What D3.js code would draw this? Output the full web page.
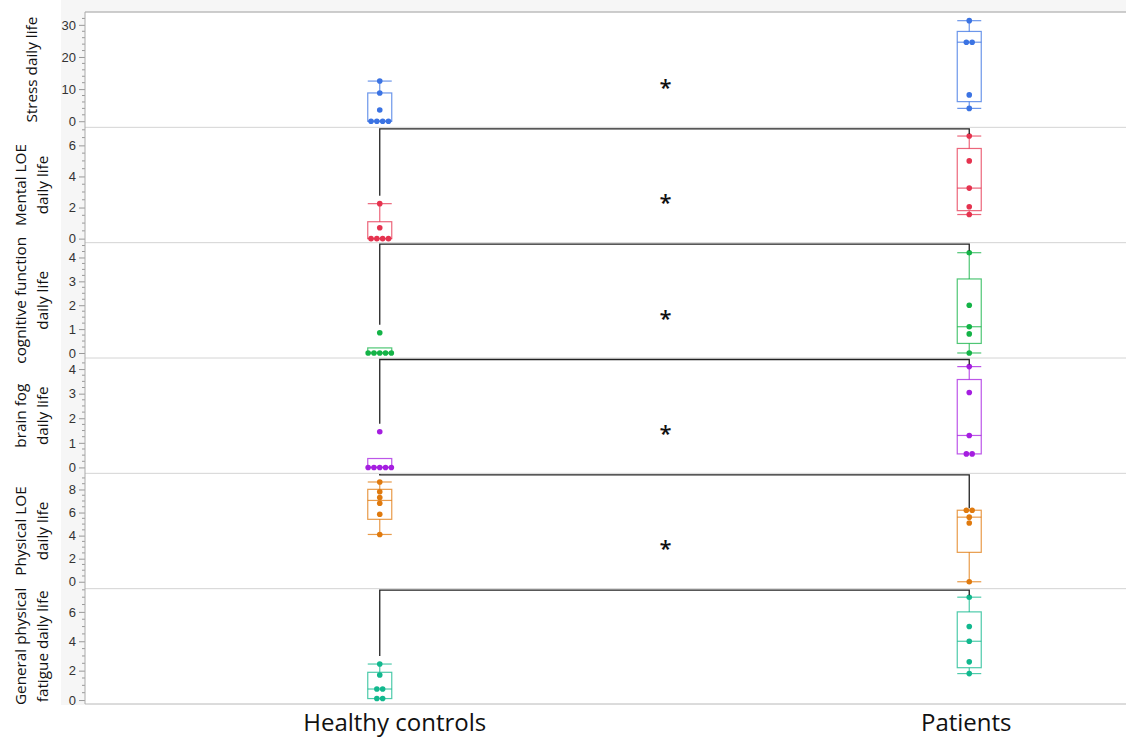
<!DOCTYPE html>
<html>
<head>
<meta charset="utf-8" />
<title>Daily life scores: healthy controls vs patients</title>
<script src="https://d3js.org/d3.v7.min.js"></script>
<style>
  body { margin: 0; background: #fff; }
  svg { display: block; font-family: "Open Sans", "Noto Sans", sans-serif; }
  .tick text { font-size: 13px; fill: #333; }
</style>
</head>
<body>
<div id="chart"></div>
<script>
// groups on the x axis
var groups = ["Healthy controls", "Patients"];

// one entry per panel, top to bottom
var panelTitles = [
  ["Stress daily life"],
  ["Mental LOE", "daily life"],
  ["cognitive function", "daily life"],
  ["brain fog", "daily life"],
  ["Physical LOE", "daily life"],
  ["General physical", "fatigue daily life"]
];
var panelColors = ["#3b73e3", "#e5334f", "#14b347", "#a51ee0", "#e07a0e", "#12b88e"];
var yDomains = [[-1.9, 34], [-0.26, 7.16], [-0.21, 4.62], [-0.24, 4.45], [-0.6, 9.4], [-0.27, 7.58]];
var majorTicks = [[0, 10, 20, 30], [0, 2, 4, 6], [0, 1, 2, 3, 4], [0, 1, 2, 3, 4], [0, 2, 4, 6, 8], [0, 2, 4, 6]];
var minorStep = [2, 0.5, 0.25, 0.25, 0.5, 0.5];

// observed values
var healthyValues = [
  [12.5, 8.8, 3.5, 0, 0, 0, 0],
  [2.25, 0.7, 0, 0, 0, 0],
  [0.85, 0, 0, 0, 0, 0],
  [1.45, 0, 0, 0, 0, 0],
  [8.65, 7.8, 7.3, 6.8, 5.85, 4.1],
  [2.45, 1.7, 0.75, 0.75, 0.1, 0.1]
];
var patientValues = [
  [31.3, 24.6, 24.6, 8.2, 4],
  [6.6, 5.0, 3.25, 2.05, 1.55],
  [4.2, 2.0, 1.1, 0.8, 0],
  [4.1, 3.05, 1.3, 0.55, 0.55],
  [6.2, 6.2, 5.6, 5.1, 0],
  [7.0, 5.0, 4.0, 2.6, 1.8]
];
// significance brackets drawn at the top of these panels
var bracketPanels = [1, 2, 3, 4, 5];
var bracketLabels = ["*", "*", "*", "*", "*"];

var W = 1126, H = 740;
var plotLeft = 85, plotRight = 1264, plotTop = 12, plotBottom = 704;
var panelH = (plotBottom - plotTop) / panelTitles.length;
var boxW = 24, dotR = 2.8, dotGap = 5.8;

var svg = d3.select("#chart").append("svg")
  .attr("width", W)
  .attr("height", H);

// light frame background
svg.append("rect").attr("x", 61).attr("y", 0).attr("width", W - 61).attr("height", plotTop).attr("fill", "#f6f6f6");
svg.append("rect").attr("x", 61).attr("y", 0).attr("width", plotLeft - 61).attr("height", plotBottom + 1).attr("fill", "#f6f6f6");
svg.append("rect").attr("x", plotLeft).attr("y", plotTop).attr("width", plotRight - plotLeft).attr("height", plotBottom - plotTop).attr("fill", "#fff");

var x = d3.scaleBand().domain(groups).range([plotLeft, plotRight]);
function cx(g) { return x(g) + x.bandwidth() / 2; }

// JMP style quantile: position p*(n+1)
function quant(sorted, p) {
  var n = sorted.length, pos = p * (n + 1);
  if (pos <= 1) return sorted[0];
  if (pos >= n) return sorted[n - 1];
  var lo = Math.floor(pos), f = pos - lo;
  return sorted[lo - 1] + f * (sorted[lo] - sorted[lo - 1]);
}

var yScales = [];

panelTitles.forEach(function(title, i) {
  var top = plotTop + i * panelH, bottom = top + panelH;
  var y = d3.scaleLinear().domain(yDomains[i]).range([bottom, top]);
  yScales.push(y);

  // separator
  svg.append("line")
    .attr("x1", plotLeft).attr("x2", W)
    .attr("y1", bottom).attr("y2", bottom)
    .attr("stroke", i == panelTitles.length - 1 ? "#b8b8b8" : "#d4d4d4");

  // minor ticks
  var minors = d3.range(0, yDomains[i][1], minorStep[i]).filter(function(v) { return majorTicks[i].indexOf(v) < 0; });
  svg.append("g").selectAll("line").data(minors).enter().append("line")
    .attr("x1", plotLeft - 3).attr("x2", plotLeft)
    .attr("y1", function(d) { return y(d); })
    .attr("y2", function(d) { return y(d); })
    .attr("stroke", "#999");

  var axis = svg.append("g")
    .attr("transform", "translate(" + plotLeft + ",0)")
    .call(d3.axisLeft(y).tickValues(majorTicks[i]).tickFormat(d3.format("d")).tickSize(6).tickPadding(3));
  axis.select(".domain").remove();
  axis.selectAll(".tick line").attr("stroke", "#999");

  // axis title
  var midY = (top + bottom) / 2;
  var lh = 22;
  var tx = 32 - (title.length - 1) * lh / 2;
  var t = svg.append("text")
    .attr("transform", "translate(" + tx + "," + midY + ") rotate(-90)")
    .attr("text-anchor", "middle")
    .style("font-size", "15.3px")
    .attr("fill", "#111");
  title.forEach(function(line, j) {
    t.append("tspan")
      .attr("x", 0)
      .attr("y", j * lh + 5)
      .text(line);
  });

  // boxes
  [healthyValues[i], patientValues[i]].forEach(function(vals, gi) {
    var g = groups[gi], c = cx(g), col = panelColors[i];
    var s = vals.slice().sort(d3.ascending);
    var q1 = quant(s, 0.25), med = quant(s, 0.5), q3 = quant(s, 0.75), iqr = q3 - q1;
    var hiW = d3.max(s.filter(function(v) { return v <= q3 + 1.5 * iqr; }));
    var loW = d3.min(s.filter(function(v) { return v >= q1 - 1.5 * iqr; }));
    var bg = svg.append("g").attr("stroke", col).attr("stroke-opacity", 0.75).attr("fill", "none").attr("stroke-width", 1.2);
    bg.append("rect").attr("x", c - boxW / 2).attr("y", y(q3)).attr("width", boxW).attr("height", Math.max(0.5, y(q1) - y(q3)));
    bg.append("line").attr("x1", c - boxW / 2).attr("x2", c + boxW / 2).attr("y1", y(med)).attr("y2", y(med));
    if (hiW > q3) {
      bg.append("line").attr("x1", c).attr("x2", c).attr("y1", y(q3)).attr("y2", y(hiW));
      bg.append("line").attr("x1", c - boxW / 2).attr("x2", c + boxW / 2).attr("y1", y(hiW)).attr("y2", y(hiW));
    }
    if (loW < q1) {
      bg.append("line").attr("x1", c).attr("x2", c).attr("y1", y(q1)).attr("y2", y(loW));
      bg.append("line").attr("x1", c - boxW / 2).attr("x2", c + boxW / 2).attr("y1", y(loW)).attr("y2", y(loW));
    }

    // points, ties spread sideways
    var counts = d3.rollup(vals, function(v) { return v.length; }, function(v) { return v; });
    var seen = new Map();
    vals.forEach(function(v) {
      var n = counts.get(v), k = seen.get(v) || 0;
      seen.set(v, k + 1);
      svg.append("circle")
        .attr("cx", c + (k - (n - 1) / 2) * dotGap)
        .attr("cy", y(v))
        .attr("r", dotR)
        .attr("fill", col);
    });
  });
});

// significance brackets
bracketPanels.forEach(function(p, k) {
  var y = yScales[p];
  var lineY = plotTop + p * panelH + 1.5;
  var xL = cx(groups[0]), xR = cx(groups[1]);
  var endL = y(d3.max(healthyValues[p])) - 8;
  var endR = y(d3.max(patientValues[p])) - 2;
  svg.append("path")
    .attr("d", "M" + xL + "," + endL + "V" + lineY + "H" + xR + "V" + endR)
    .attr("fill", "none")
    .attr("stroke", "#222")
    .attr("stroke-width", 1.3);
  svg.append("text")
    .attr("x", (xL + xR) / 2 - 9)
    .attr("y", lineY - 34)
    .attr("text-anchor", "middle")
    .style("font-size", "22px")
    .style("font-weight", "600")
    .attr("fill", "#111")
    .text(bracketLabels[k]);
});

// top frame line and left axis line
svg.append("line").attr("x1", plotLeft).attr("x2", W).attr("y1", plotTop).attr("y2", plotTop).attr("stroke", "#bdbdbd").attr("stroke-width", 1.5);
svg.append("line").attr("x1", plotLeft).attr("x2", plotLeft).attr("y1", plotTop).attr("y2", plotBottom).attr("stroke", "#aaa");

// group labels
svg.append("g").selectAll("text").data(groups).enter().append("text")
  .attr("x", function(d) { return cx(d); })
  .attr("dx", function(d, i) { return i == 0 ? 15 : -3; })
  .attr("y", 731)
  .attr("text-anchor", "middle")
  .style("font-size", "24px")
  .attr("fill", "#111")
  .text(function(d) { return d; });
</script>
</body>
</html>
